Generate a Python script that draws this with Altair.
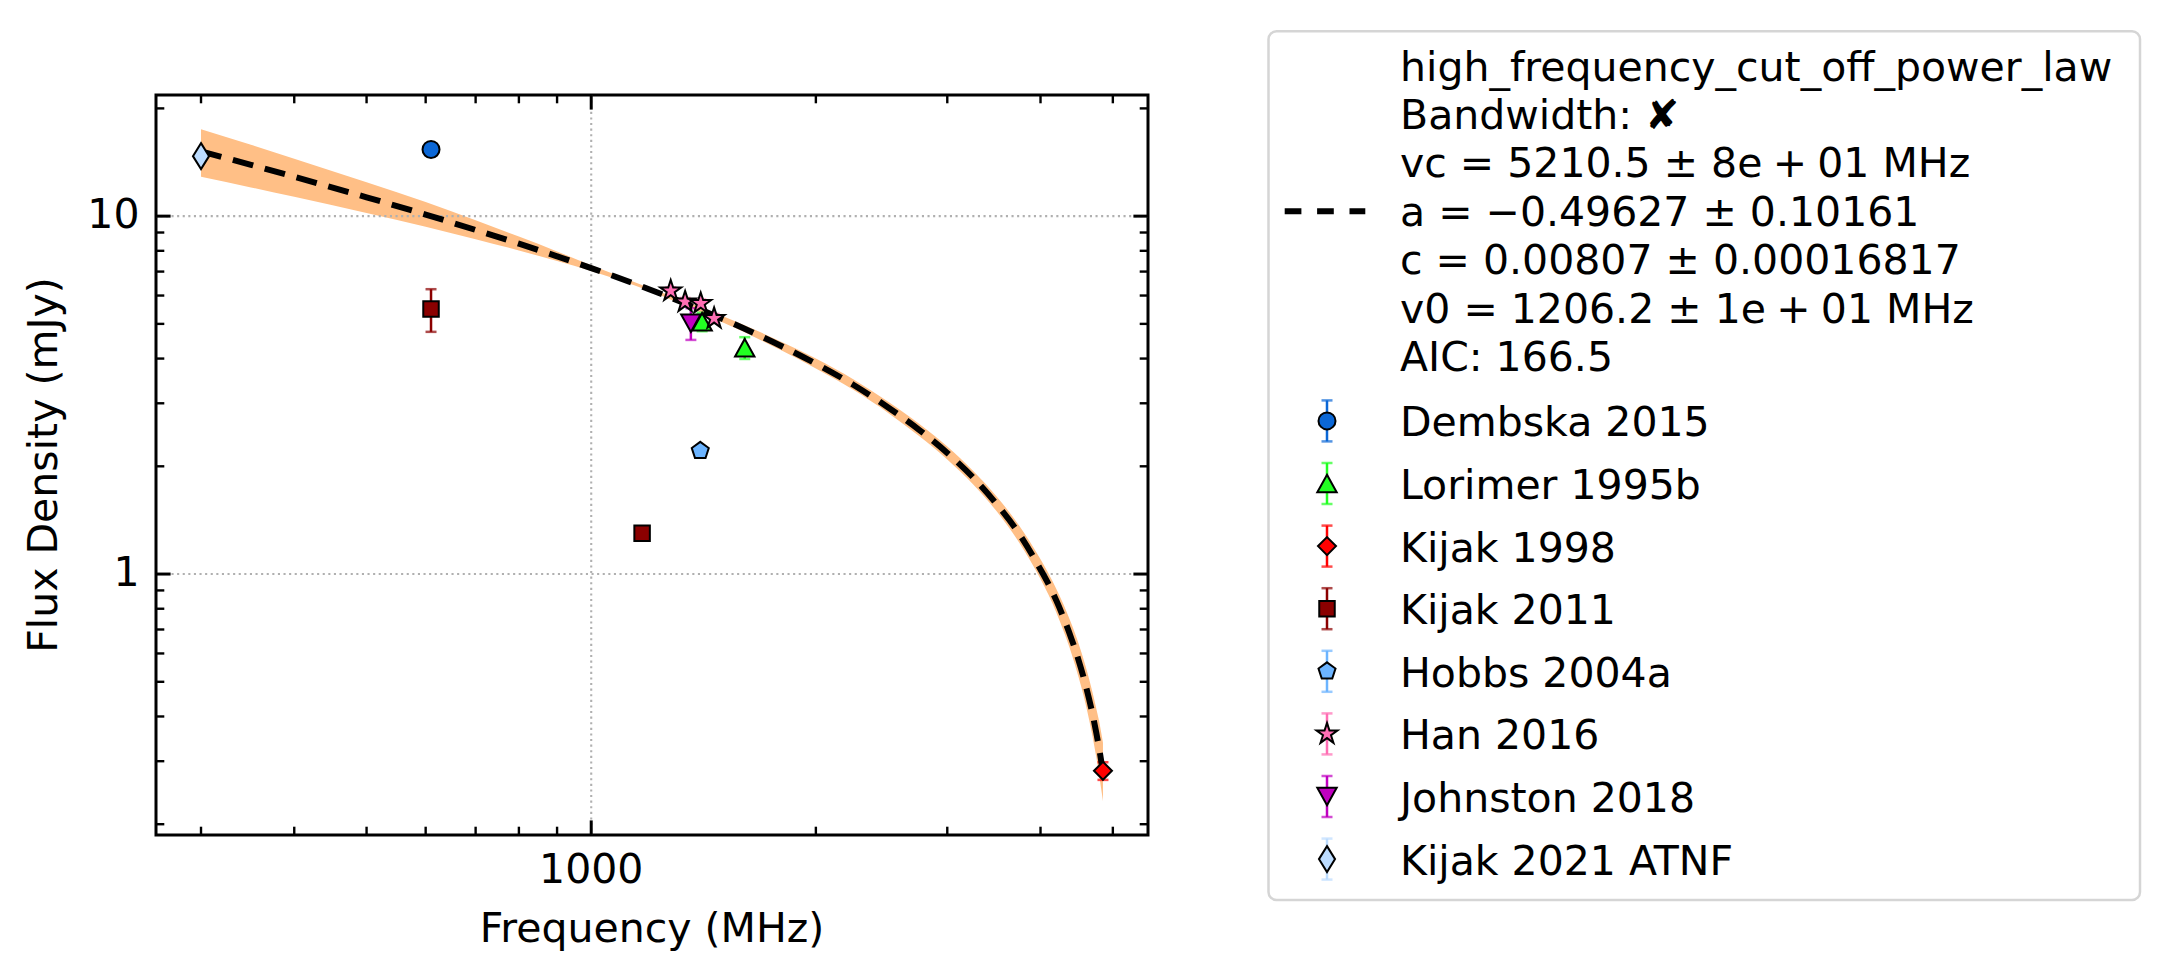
import altair as alt
import pandas as pd

FONT = "DejaVu Sans"
FS = 41

# ------------------------------------------------------------------ data
sources = ["Dembska 2015", "Lorimer 1995b", "Kijak 1998", "Kijak 2011",
           "Hobbs 2004a", "Han 2016", "Johnston 2018", "Kijak 2021 ATNF"]

pt_source = ["Dembska 2015", "Lorimer 1995b", "Lorimer 1995b", "Kijak 1998",
             "Kijak 2011", "Kijak 2011", "Hobbs 2004a",
             "Han 2016", "Han 2016", "Han 2016", "Han 2016",
             "Johnston 2018", "Kijak 2021 ATNF"]
pt_freq = [610, 1408, 1606, 4850, 610, 1170, 1400, 1278, 1336, 1402, 1461, 1360, 300]
pt_flux = [15.36, 5.07, 4.29, 0.282, 5.50, 1.30, 2.21, 6.18, 5.76, 5.70, 5.18, 5.02, 14.71]
pt_err = [0.6, 0.3, 0.30, 0.016, 0.75, 0.03, 0.05, 0.15, 0.15, 0.15, 0.15, 0.51, 0.4]

fit_freq = [300, 350, 400, 500, 600, 700, 800, 900, 1000, 1200, 1400, 1600, 1800,
            2000, 2250, 2500, 2750, 3000, 3250, 3500, 3750, 4000, 4100, 4200, 4300,
            4400, 4500, 4600, 4700, 4750, 4800, 4850]
fit_flux = [15.17, 13.91, 12.88, 11.29, 10.10, 9.15, 8.38, 7.72, 7.16, 6.23, 5.48, 4.86,
            4.33, 3.87, 3.37, 2.92, 2.53, 2.18, 1.86, 1.56, 1.29, 1.03, 0.937, 0.843,
            0.750, 0.660, 0.573, 0.487, 0.403, 0.361, 0.320, 0.280]
fit_hi = [17.50, 15.82, 14.46, 12.44, 10.95, 9.74, 8.77, 7.97, 7.29, 6.29, 5.57, 4.97,
          4.45, 4.00, 3.49, 3.03, 2.63, 2.27, 1.94, 1.64, 1.36, 1.10, 1.004, 0.909,
          0.817, 0.726, 0.638, 0.550, 0.464, 0.422, 0.382, 0.338]
fit_lo = [12.88, 12.03, 11.32, 10.20, 9.34, 8.62, 8.02, 7.49, 7.03, 6.17, 5.39, 4.75,
          4.21, 3.75, 3.26, 2.82, 2.43, 2.09, 1.78, 1.49, 1.22, 0.969, 0.875, 0.781,
          0.689, 0.601, 0.514, 0.431, 0.349, 0.309, 0.269, 0.232]

SP = "\u2005"  # narrow (1/4 em) space, like mathtext operator spacing
fit_text = ["high_frequency_cut_off_power_law",
            "Bandwidth: \u2718",
            f"vc = 5210.5 \u00b1 8e{SP}+{SP}01 MHz",
            "a = \u22120.49627 \u00b1 0.10161",
            "c = 0.00807 \u00b1 0.00016817",
            f"v0 = 1206.2 \u00b1 1e{SP}+{SP}01 MHz",
            "AIC: 166.5"]

x_title = "Frequency (MHz)"
y_title = "Flux Density (mJy)"
x_major = [1000]
x_major_labels = ["1000"]
x_minor = [300, 400, 500, 600, 700, 800, 900, 2000, 3000, 4000, 5000]
y_major = [1, 10]
y_major_labels = ["1", "10"]
y_minor = [0.2, 0.3, 0.4, 0.5, 0.6, 0.7, 0.8, 0.9, 2, 3, 4, 5, 6, 7, 8, 9, 20]

# ------------------------------------------------------------------ styles
colors = {"Dembska 2015": "#0b67d6", "Lorimer 1995b": "#22ff22", "Kijak 1998": "#ff0000",
          "Kijak 2011": "#8b0000", "Hobbs 2004a": "#6cb4ff", "Han 2016": "#ff6eb4",
          "Johnston 2018": "#c000c0", "Kijak 2021 ATNF": "#bcdcff"}
star = ("M0,-1L0.2245,-0.309L0.9511,-0.309L0.3633,0.118L0.5878,0.809L0,0.382"
        "L-0.5878,0.809L-0.3633,0.118L-0.9511,-0.309L-0.2245,-0.309Z")
shapes = {"Dembska 2015": "circle",
          "Lorimer 1995b": "M0,-0.95L1.05,0.95L-1.05,0.95Z",
          "Kijak 1998": "M0,-1L1,0L0,1L-1,0Z",
          "Kijak 2011": "square",
          "Hobbs 2004a": "M0,-1L0.951,-0.309L0.588,0.809L-0.588,0.809L-0.951,-0.309Z",
          "Han 2016": star,
          "Johnston 2018": "M0,0.95L1.05,-0.95L-1.05,-0.95Z",
          "Kijak 2021 ATNF": "M0,-1L0.62,0L0,1L-0.62,0Z"}
sizes = {"Dembska 2015": 289, "Lorimer 1995b": 342, "Kijak 1998": 324, "Kijak 2011": 240,
         "Hobbs 2004a": 320, "Han 2016": 484, "Johnston 2018": 342, "Kijak 2021 ATNF": 676}

W, H = 992, 740
BAND = "#ffbf86"
GRID = "#b0b0b0"

xs = alt.Scale(type="log", domain=[261.1, 5573], nice=False)
ys = alt.Scale(type="log", domain=[0.1866, 21.8], nice=False)
fill_scale = alt.Scale(domain=sources, range=[colors[s] for s in sources])
shape_scale = alt.Scale(domain=sources, range=[shapes[s] for s in sources])


def X(field="freq"):
    return alt.X(f"{field}:Q", scale=xs, axis=None)


def Y(field="flux"):
    return alt.Y(f"{field}:Q", scale=ys, axis=None)


# ------------------------------------------------------------------ tables
fit_df = pd.DataFrame({"freq": fit_freq, "flux": fit_flux, "lo": fit_lo, "hi": fit_hi})
pts_df = pd.DataFrame({"src": pt_source, "freq": pt_freq, "flux": pt_flux, "err": pt_err})
pts_df["lo"] = pts_df["flux"] - pts_df["err"]
pts_df["hi"] = pts_df["flux"] + pts_df["err"]
pts_df["sz"] = pts_df["src"].map(sizes)

# ------------------------------------------------------------------ plot layers
band = alt.Chart(fit_df).mark_area(color=BAND, opacity=1, interpolate="monotone").encode(
    x=X(), y=Y("lo"), y2="hi")

grid_x = alt.Chart(pd.DataFrame({"freq": x_major})).mark_rule(
    color=GRID, strokeWidth=2.1, strokeDash=[2.1, 3.5]).encode(x=X())
grid_y = alt.Chart(pd.DataFrame({"flux": y_major})).mark_rule(
    color=GRID, strokeWidth=2.1, strokeDash=[2.1, 3.5]).encode(y=Y())

MAJ, MIN = 14.6, 8.3


def xticks(values, length, width, top):
    y0, y1 = (0, length) if top else (H, H - length)
    return alt.Chart(pd.DataFrame({"freq": values})).mark_rule(
        color="black", strokeWidth=width).encode(x=X(), y=alt.value(y0), y2=alt.value(y1))


def yticks(values, length, width, right):
    x0, x1 = (W, W - length) if right else (0, length)
    return alt.Chart(pd.DataFrame({"flux": values})).mark_rule(
        color="black", strokeWidth=width).encode(y=Y(), x=alt.value(x0), x2=alt.value(x1))


ticks = [xticks(x_major, MAJ, 3, False), xticks(x_minor, MIN, 2.4, False),
         xticks(x_major, MAJ, 3, True), xticks(x_minor, MIN, 2.4, True),
         yticks(y_major, MAJ, 3, False), yticks(y_minor, MIN, 2.4, False),
         yticks(y_major, MAJ, 3, True), yticks(y_minor, MIN, 2.4, True)]

# tick labels placed through the scales
xlab = alt.Chart(pd.DataFrame({"freq": x_major, "t": x_major_labels})).mark_text(
    font=FONT, fontSize=FS, color="black", align="center", baseline="alphabetic").encode(
    x=X(), y=alt.value(H + 47.5), text="t:N")
ylab = alt.Chart(pd.DataFrame({"flux": y_major, "t": y_major_labels})).mark_text(
    font=FONT, fontSize=FS, color="black", align="right", baseline="middle").encode(
    y=Y(), x=alt.value(-16.5), text="t:N")
xtit = alt.Chart(pd.DataFrame({"t": [x_title]})).mark_text(
    font=FONT, fontSize=FS, color="black", align="center", baseline="alphabetic").encode(
    x=alt.value(W / 2), y=alt.value(H + 106.5), text="t:N")
ytit = alt.Chart(pd.DataFrame({"t": [y_title]})).mark_text(
    font=FONT, fontSize=FS, color="black", align="center", baseline="alphabetic",
    angle=270).encode(x=alt.value(-99.5), y=alt.value(H / 2), text="t:N")

err_color = alt.Color("src:N", scale=fill_scale, legend=None)
err_rule = alt.Chart(pts_df).mark_rule(strokeWidth=2.5).encode(
    x=X(), y=Y("lo"), y2="hi", color=err_color)
cap_lo = alt.Chart(pts_df).mark_tick(orient="horizontal", size=11, thickness=2.5).encode(
    x=X(), y=Y("lo"), color=err_color)
cap_hi = alt.Chart(pts_df).mark_tick(orient="horizontal", size=11, thickness=2.5).encode(
    x=X(), y=Y("hi"), color=err_color)

fit_line = alt.Chart(fit_df).mark_line(color="black", strokeWidth=6, strokeDash=[21, 12],
                                       interpolate="monotone").encode(x=X(), y=Y())

points = alt.Chart(pts_df).mark_point(filled=True, stroke="black", strokeWidth=2,
                                      opacity=1, fillOpacity=1).encode(
    x=X(), y=Y(),
    fill=alt.Fill("src:N", scale=fill_scale, legend=None),
    shape=alt.Shape("src:N", scale=shape_scale, legend=None),
    size=alt.Size("sz:Q", scale=None))

plot = alt.layer(band, grid_x, grid_y, *ticks, xlab, ylab, xtit, ytit,
                 err_rule, cap_lo, cap_hi, fit_line, points)

# ------------------------------------------------------------------ legend (pixel layout)
LX0, LX1, LY0, LY1 = 1112.5, 1984, -63.7, 805
TEXT_X = 1244
HANDLE_X = 1171
FIT_Y0, FIT_STEP = -14.5, 48.4
SER_Y0, SER_STEP = 341.4, 62.6

frame = alt.Chart(pd.DataFrame({"a": [0]})).mark_rect(
    fill="white", stroke="#d5d5d5", strokeWidth=2.5, cornerRadius=8).encode(
    x=alt.value(LX0), x2=alt.value(LX1), y=alt.value(LY0), y2=alt.value(LY1))

handle = alt.Chart(pd.DataFrame({"a": [0]})).mark_rule(
    color="black", strokeWidth=6, strokeDash=[16.7, 15.7]).encode(
    x=alt.value(1128.7), x2=alt.value(1209.3), y=alt.value(FIT_Y0 + 3 * FIT_STEP - 14.5))

txt_df = pd.DataFrame({
    "t": fit_text + sources,
    "y": [FIT_Y0 + i * FIT_STEP for i in range(len(fit_text))]
         + [SER_Y0 + i * SER_STEP for i in range(len(sources))]})
texts = alt.Chart(txt_df).mark_text(align="left", baseline="alphabetic", font=FONT,
                                    fontSize=FS, color="black").encode(
    x=alt.value(TEXT_X), y=alt.Y("y:Q", scale=None), text="t:N")

leg_df = pd.DataFrame({"src": sources,
                       "y": [SER_Y0 + i * SER_STEP - 15.5 for i in range(len(sources))]})
leg_df["y0"] = leg_df["y"] - 20.5
leg_df["y1"] = leg_df["y"] + 20.5
leg_df["sz"] = leg_df["src"].map(sizes)

leg_err = alt.Chart(leg_df).mark_rule(strokeWidth=2.5).encode(
    x=alt.value(HANDLE_X), y=alt.Y("y0:Q", scale=None), y2="y1", color=err_color)
leg_cap0 = alt.Chart(leg_df).mark_tick(orient="horizontal", size=11, thickness=2.5).encode(
    x=alt.value(HANDLE_X), y=alt.Y("y0:Q", scale=None), color=err_color)
leg_cap1 = alt.Chart(leg_df).mark_tick(orient="horizontal", size=11, thickness=2.5).encode(
    x=alt.value(HANDLE_X), y=alt.Y("y1:Q", scale=None), color=err_color)
leg_pts = alt.Chart(leg_df).mark_point(filled=True, stroke="black", strokeWidth=2,
                                       opacity=1, fillOpacity=1).encode(
    x=alt.value(HANDLE_X), y=alt.Y("y:Q", scale=None),
    fill=alt.Fill("src:N", scale=fill_scale, legend=None),
    shape=alt.Shape("src:N", scale=shape_scale, legend=None),
    size=alt.Size("sz:Q", scale=None))

legend = alt.layer(frame, handle, texts, leg_err, leg_cap0, leg_cap1, leg_pts)

chart = alt.layer(plot, legend).resolve_scale(x="independent", y="independent").properties(
    width=W, height=H,
    padding={"left": 156, "top": 95, "right": 2172 - 156 - W, "bottom": 980 - 95 - H},
    autosize=alt.AutoSizeParams(type="none"),
    background="white",
).configure_view(stroke="black", strokeWidth=3)

chart.save("out.html", embed_options={"renderer": "svg", "actions": False})
